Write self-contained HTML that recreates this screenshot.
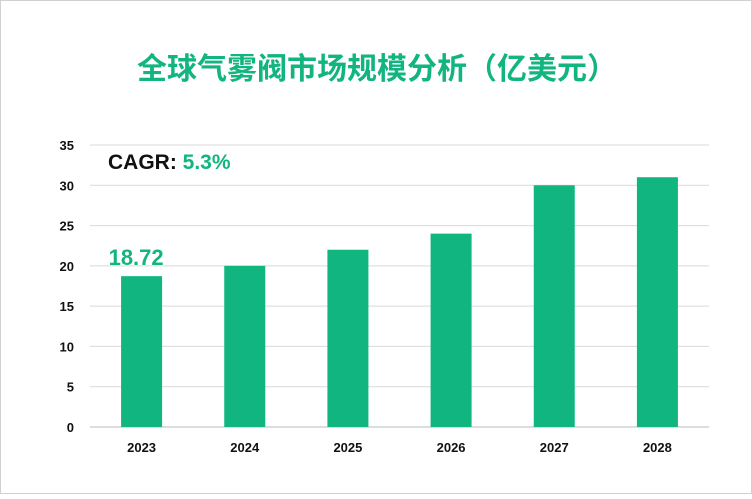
<!DOCTYPE html>
<html><head><meta charset="utf-8"><style>
body{margin:0;background:#fff}
#c{position:relative;width:752px;height:494px;font-family:"Liberation Sans","Noto Sans CJK SC",sans-serif}
</style></head><body>
<div id="c">
<svg id="s" width="752" height="494" xmlns="http://www.w3.org/2000/svg">
<rect x="0.5" y="0.5" width="751" height="493" fill="#fff" stroke="#d0d0d0"/>
<text x="377" y="79" text-anchor="middle" font-size="30" font-weight="bold" fill="#12b57f" font-family="Liberation Sans,Noto Sans CJK SC,sans-serif">全球气雾阀市场规模分析（亿美元）</text>
<g id="grid"></g><g id="bars"></g><g id="labels"></g>
<text x="108" y="169" font-size="21" font-weight="bold" fill="#111">CAGR: <tspan fill="#12b57f">5.3%</tspan></text>
</svg>
</div>
<script>
const categories=["2023","2024","2025","2026","2027","2028"];
const values=[18.72,20,22,24,30,31];
const yTicks=[0,5,10,15,20,25,30,35];
const valueLabels=["18.72"];
const NS="http://www.w3.org/2000/svg";
const x0=90,x1=709,yBase=427,yTop=145,yMax=35;
const y=v=>yBase-(yBase-yTop)*v/yMax;
const band=(x1-x0)/categories.length;
const bx=i=>x0+band*i+band/2;
function mk(t,a,p){const e=document.createElementNS(NS,t);for(const k in a)e.setAttribute(k,a[k]);p.appendChild(e);return e;}
const g=document.getElementById('grid'),b=document.getElementById('bars'),l=document.getElementById('labels');
yTicks.forEach(v=>{
 const ln=mk('line',{x1:x0,x2:x1,y1:y(v),y2:y(v),stroke:v===0?'#bbb':'#d9d9d9','stroke-width':1},g);
 
 
 const t=mk('text',{x:74,y:y(v)+5,'text-anchor':'end','font-size':13,'font-weight':'bold',fill:'#111'},g);
 t.textContent=v;
 
 
});
categories.forEach((c,i)=>{
 const r=mk('rect',{x:bx(i)-20.5,y:y(values[i]),width:41,height:yBase-y(values[i]),fill:'#10b57f'},b);
 
 
 const t=mk('text',{x:bx(i),y:452,'text-anchor':'middle','font-size':13,'font-weight':'bold',fill:'#111'},l);
 t.textContent=c;
 
 
});
const vl=mk('text',{x:bx(0)-33,y:y(values[0])-11,'font-size':22,'font-weight':'bold',fill:'#12b57f'},l);
vl.textContent=valueLabels[0];


</script>
</body></html>
